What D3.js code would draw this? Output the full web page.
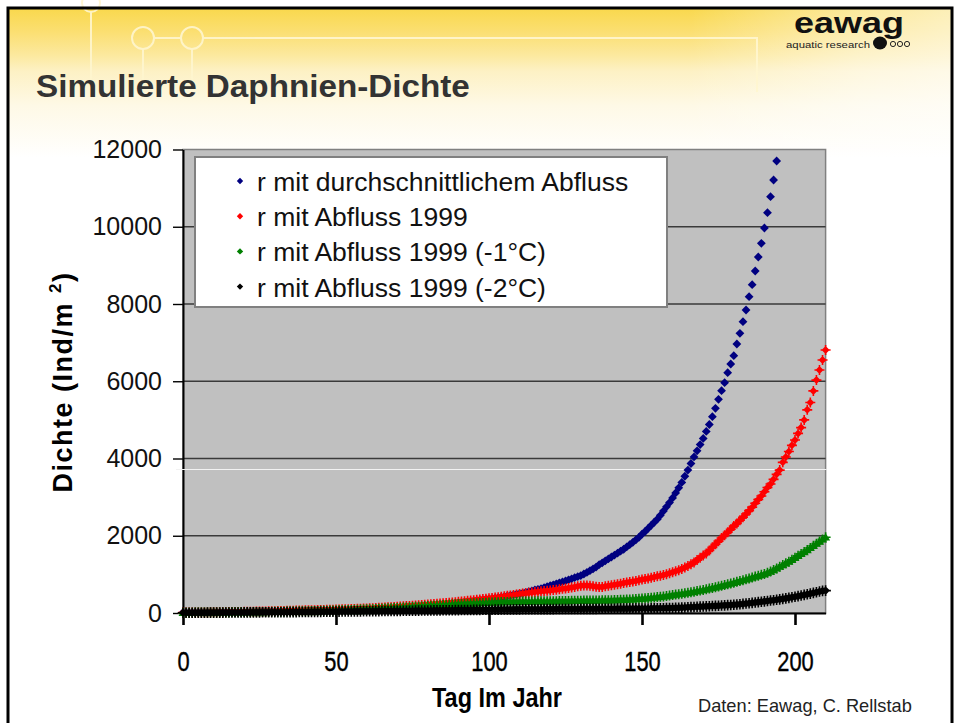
<!DOCTYPE html>
<html>
<head>
<meta charset="utf-8">
<title>Simulierte Daphnien-Dichte</title>
<style>
    html, body { margin: 0; padding: 0; background: #fff; }
    svg { display: block; }
    text { font-family: "Liberation Sans", Arial, sans-serif; }
</style>
<script src="https://d3js.org/d3.v7.min.js"></script>
</head>
<body>
<script>

// values, one value per day (index = Tag im Jahr)
var avgFlow = [
    10,11,11,12,12,13,14,14,15,16,
    16,17,18,18,19,20,21,22,23,24,
    25,26,27,28,29,31,32,33,35,36,
    37,38,40,41,42,43,45,46,47,49,
    50,52,54,55,57,59,61,63,65,67,
    69,71,73,75,77,79,81,83,85,88,
    90,93,96,99,102,105,108,111,114,117,
    120,124,128,132,137,142,147,153,158,164,
    170,177,185,193,201,209,218,229,240,250,
    260,270,280,290,300,310,320,330,340,350,
    360,372,384,397,411,425,440,455,470,485,
    500,517,535,555,575,595,612,630,655,680,
    705,730,755,780,805,830,860,885,915,940,
    970,1010,1050,1095,1140,1190,1250,1300,1350,1400,
    1450,1500,1550,1600,1650,1710,1770,1830,1895,1960,
    2040,2110,2190,2270,2350,2430,2530,2640,2750,2860,
    2980,3110,3240,3380,3540,3700,3870,4040,4200,4360,
    4520,4700,4880,5082,5300,5533,5756,5963,6222,6447,
    6662,6964,7241,7542,7845,8189,8500,8855,9217,9572,
    9968,10364,10778,11210,11702
];

var flow1999 = [
    10,11,11,12,13,13,14,15,16,17,
    18,19,20,21,22,23,24,26,27,28,
    30,31,33,34,36,38,40,42,44,46,
    48,50,52,54,56,58,60,62,64,66,
    68,70,72,74,76,78,80,82,84,86,
    88,91,94,97,100,103,106,109,112,115,
    118,122,126,130,134,138,142,147,152,157,
    162,167,172,178,184,190,196,202,208,214,
    220,226,232,238,245,252,259,266,273,280,
    290,298,306,314,322,331,340,350,360,370,
    380,390,400,410,420,432,444,456,468,480,
    492,502,512,522,532,542,552,560,568,577,
    585,595,605,614,625,637,650,662,675,690,
    705,712,715,705,690,678,672,675,690,705,
    720,730,745,760,775,788,800,815,830,845,
    865,880,895,910,930,950,965,985,1005,1030,
    1055,1080,1105,1140,1180,1220,1260,1310,1370,1430,
    1490,1540,1620,1700,1780,1860,1940,2010,2090,2170,
    2250,2320,2400,2480,2565,2650,2740,2840,2940,3030,
    3140,3250,3340,3460,3590,3700,3900,4040,4180,4340,
    4480,4650,4800,5000,5260,5450,5750,6030,6290,6550,
    6810
];

var flow1999m1 = [
    8,8,9,9,10,10,11,11,12,12,
    13,13,14,15,15,16,17,17,18,19,
    20,21,22,23,24,25,26,27,28,30,
    31,32,34,35,37,38,40,41,43,45,
    46,48,50,52,54,56,58,60,62,64,
    66,68,70,73,76,79,82,85,88,91,
    94,97,100,104,108,112,116,120,124,128,
    132,136,140,145,150,155,160,165,170,175,
    180,185,190,195,200,205,210,215,220,225,
    230,234,238,242,246,250,254,258,262,266,
    270,273,276,279,282,285,287,289,291,293,
    295,296,297,298,299,300,301,302,303,304,
    305,306,307,308,309,310,312,314,316,318,
    320,321,322,323,324,325,326,327,329,331,
    333,335,338,341,344,348,352,357,362,367,
    373,380,387,395,403,412,421,430,440,452,
    464,476,488,500,512,525,538,552,567,582,
    598,614,632,650,668,686,705,725,745,765,
    785,806,828,850,872,895,918,942,965,990,
    1010,1040,1075,1115,1155,1200,1240,1285,1330,1380,
    1430,1480,1530,1580,1630,1685,1740,1795,1850,1905,
    1960
];

var flow1999m2 = [
    5,5,6,6,7,7,8,8,9,9,
    10,10,11,11,12,12,13,13,14,14,
    15,15,16,16,17,17,18,18,19,19,
    20,20,21,21,22,22,23,23,24,24,
    25,26,27,28,29,30,31,32,33,34,
    35,36,37,38,39,40,41,42,43,44,
    45,46,47,48,49,50,51,52,53,54,
    55,56,57,58,59,60,61,62,63,64,
    65,66,67,68,69,70,71,72,73,74,
    75,76,77,78,79,80,81,82,83,84,
    85,86,87,88,89,90,91,92,93,94,
    95,96,97,97,98,98,99,99,100,100,
    101,101,102,102,103,103,104,104,105,105,
    106,106,107,107,108,108,109,109,110,110,
    111,111,112,112,113,113,114,114,115,115,
    116,117,118,119,120,121,122,123,125,127,
    129,132,135,139,143,147,151,156,160,164,
    168,172,176,180,184,188,193,198,203,208,
    213,220,228,236,245,254,263,272,282,292,
    302,312,322,332,343,354,365,378,392,406,
    420,436,452,468,485,502,520,538,556,572,
    580
];

var seriesNames = [
    "r mit durchschnittlichem Abfluss",
    "r mit Abfluss 1999",
    "r mit Abfluss 1999 (-1°C)",
    "r mit Abfluss 1999 (-2°C)"
];
var seriesColors = ["#000080", "#ff0000", "#008000", "#000000"];
var xTicks = [0, 50, 100, 150, 200];
var yTicks = [0, 2000, 4000, 6000, 8000, 10000, 12000];

var allSeries = [avgFlow, flow1999, flow1999m1, flow1999m2];

var W = 956, H = 723;
var plotLeft = 183, plotRight = 825.6, plotTop = 149.5, plotBottom = 613;

var svg = d3.select("body").append("svg")
    .attr("width", W)
    .attr("height", H);

var defs = svg.append("defs");

var bgGrad = defs.append("linearGradient")
    .attr("id", "bg").attr("x1", 0).attr("y1", 0).attr("x2", 0).attr("y2", 1);
[["0", "#f9d84c"], ["0.16", "#fbdf72"], ["0.32", "#fce9a0"], ["0.42", "#fdf1c4"],
 ["0.65", "#fef9e6"], ["1", "#ffffff"]].forEach(function(s) {
    bgGrad.append("stop").attr("offset", s[0]).attr("stop-color", s[1]);
});

var sideGrad = defs.append("linearGradient")
    .attr("id", "side").attr("x1", 0).attr("y1", 0).attr("x2", 1).attr("y2", 0);
[["0", 0], ["0.72", 0], ["0.9", 0.45], ["1", 0.6]].forEach(function(s) {
    sideGrad.append("stop").attr("offset", s[0])
        .attr("stop-color", "#fff").attr("stop-opacity", s[1]);
});

// slide background
svg.append("rect").attr("x", 8).attr("y", 8).attr("width", 945).attr("height", 150)
    .attr("fill", "url(#bg)");
svg.append("rect").attr("x", 8).attr("y", 8).attr("width", 945).attr("height", 150)
    .attr("fill", "url(#side)");

// decorative circuit lines
var deco = svg.append("g")
    .attr("fill", "none")
    .attr("stroke", "#fff6cf")
    .attr("stroke-width", 2)
    .attr("opacity", 0.9);
deco.append("path").attr("d", "M91,12V85");
deco.append("circle").attr("cx", 91).attr("cy", 3).attr("r", 9);
deco.append("circle").attr("cx", 143).attr("cy", 38).attr("r", 11);
deco.append("circle").attr("cx", 192).attr("cy", 38).attr("r", 11);
deco.append("path").attr("d", "M154,38H181");
deco.append("path").attr("d", "M203,38H757V92");
deco.append("path").attr("d", "M143,49V85");
deco.append("path").attr("d", "M192,49V85");

// frame
svg.append("path")
    .attr("d", "M8,723V8H952V723")
    .attr("fill", "none")
    .attr("stroke", "#000")
    .attr("stroke-width", 3);

function fitText(sel, target) {
    var w = sel.node().getComputedTextLength();
    var t = sel.attr("transform") || "";
    sel.attr("transform", t + " scale(" + (target / w) + ",1)");
}

// logo
var logo = svg.append("g");
var lg = logo.append("text")
    .attr("transform", "translate(794,33)")
    .attr("font-size", 29)
    .attr("font-weight", "bold")
    .attr("fill", "#111")
    .text("eawag");
fitText(lg, 110);
var lg2 = logo.append("text")
    .attr("transform", "translate(786,48)")
    .attr("font-size", 9.5)
    .attr("fill", "#222")
    .text("aquatic research");
fitText(lg2, 84);
logo.append("ellipse").attr("cx", 880).attr("cy", 43).attr("rx", 7).attr("ry", 6.5)
    .attr("fill", "#111");
[893, 900, 907].forEach(function(cx) {
    logo.append("circle").attr("cx", cx).attr("cy", 44).attr("r", 2.6)
        .attr("fill", "none").attr("stroke", "#222").attr("stroke-width", 1);
});

// title
var title = svg.append("text")
    .attr("transform", "translate(36,97)")
    .attr("font-size", 31)
    .attr("font-weight", "bold")
    .attr("fill", "#333")
    .text("Simulierte Daphnien-Dichte");
fitText(title, 434);

// scales
var xScale = d3.scaleLinear().domain([0, 210]).range([plotLeft, plotRight]);
var yScale = d3.scaleLinear().domain([0, 12000]).range([plotBottom, plotTop]);

// plot area
svg.append("rect")
    .attr("x", plotLeft).attr("y", plotTop)
    .attr("width", plotRight - plotLeft).attr("height", plotBottom - plotTop)
    .attr("fill", "#c0c0c0")
    .attr("stroke", "#808080")
    .attr("stroke-width", 1.5);

svg.append("g").selectAll("line")
    .data(yTicks.filter(function(d) { return d > 0 && d < 12000; }))
    .enter().append("line")
    .attr("x1", plotLeft).attr("x2", plotRight)
    .attr("y1", function(d) { return yScale(d); })
    .attr("y2", function(d) { return yScale(d); })
    .attr("stroke", "#3a3a3a")
    .attr("stroke-width", 1.5);

// axes
var yAxis = d3.axisLeft(yScale)
    .tickValues(yTicks)
    .tickSize(10)
    .tickSizeOuter(0)
    .tickPadding(11)
    .tickFormat(d3.format("d"));

var gy = svg.append("g")
    .attr("transform", "translate(" + plotLeft + ",0)")
    .call(yAxis);
gy.select(".domain").attr("stroke", "#000").attr("stroke-width", 2);
gy.selectAll(".tick line").attr("stroke", "#000").attr("stroke-width", 1.4);
gy.selectAll(".tick text")
    .attr("font-family", "Liberation Sans, Arial, sans-serif")
    .attr("font-size", 25)
    .attr("fill", "#111");

var xAxis = d3.axisBottom(xScale)
    .tickValues(xTicks)
    .tickSize(12)
    .tickSizeOuter(0)
    .tickPadding(26);

var gx = svg.append("g")
    .attr("transform", "translate(0," + plotBottom + ")")
    .call(xAxis);
gx.select(".domain").attr("stroke", "#000").attr("stroke-width", 2);
gx.selectAll(".tick line").attr("stroke", "#000").attr("stroke-width", 2.6);
gx.selectAll(".tick text")
    .attr("font-family", "Liberation Sans, Arial, sans-serif")
    .attr("font-size", 28)
    .attr("fill", "#000")
    .attr("stroke", "#000")
    .attr("stroke-width", 0.4)
    .attr("transform", "scale(0.78,1)");

// seam visible on the slide
svg.append("line")
    .attr("x1", 176).attr("x2", plotRight + 1)
    .attr("y1", 469.5).attr("y2", 469.5)
    .attr("stroke", "#f2f2f2").attr("stroke-width", 1);

// markers
function markerPath(i, r) {
    var dia = "M0," + (-r) + "L" + r + ",0L0," + r + "L" + (-r) + ",0Z";
    var a = r + 1;
    var plus = "M" + (-a) + ",-0.8h" + (2 * a) + "v1.6h" + (-2 * a) + "Z" +
               "M-0.8," + (-a) + "h1.6v" + (2 * a) + "h-1.6Z";
    if (i === 0) return dia;
    if (i === 1) return dia + plus;
    if (i === 2) return "M0," + (-r - 0.5) + "L" + (r + 0.5) + "," + (r * 0.8) + "L" + (-r - 0.5) + "," + (r * 0.8) + "Z" + plus;
    return dia + plus;
}

var markerR = [4.4, 4.0, 4.0, 4.3];

allSeries.forEach(function(values, si) {
    svg.append("g")
        .attr("fill", seriesColors[si])
        .selectAll("path")
        .data(values)
        .enter().append("path")
        .attr("d", markerPath(si, markerR[si]))
        .attr("transform", function(d, i) {
            return "translate(" + xScale(i) + "," + yScale(d) + ")";
        });
});

// legend
var legend = svg.append("g");
legend.append("rect")
    .attr("x", 195).attr("y", 157)
    .attr("width", 472).attr("height", 150)
    .attr("fill", "#fff")
    .attr("stroke", "#808080")
    .attr("stroke-width", 2);

seriesNames.forEach(function(name, i) {
    var by = 191 + i * 35.2;
    legend.append("path")
        .attr("d", markerPath(0, 3.2))
        .attr("fill", seriesColors[i])
        .attr("transform", "translate(240," + (by - 10) + ")");
    legend.append("text")
        .attr("x", 257).attr("y", by)
        .attr("font-size", 26.5)
        .attr("fill", "#111")
        .text(name);
});

// axis titles
var yTitle = svg.append("text")
    .attr("transform", "translate(72,382) rotate(-90)")
    .attr("text-anchor", "middle")
    .attr("font-size", 27)
    .attr("font-weight", "bold")
    .attr("letter-spacing", 1.5)
    .attr("fill", "#000");
yTitle.append("tspan").text("Dichte (Ind/m ");
yTitle.append("tspan").attr("font-size", 17).attr("dy", -11).text("2");
yTitle.append("tspan").attr("dy", 11).text(")");
fitText(yTitle, 221);

var xTitle = svg.append("text")
    .attr("transform", "translate(497,707)")
    .attr("text-anchor", "middle")
    .attr("font-size", 28)
    .attr("font-weight", "bold")
    .attr("fill", "#000")
    .text("Tag Im Jahr");
fitText(xTitle, 130);

var source = svg.append("text")
    .attr("transform", "translate(698,712)")
    .attr("font-size", 18)
    .attr("fill", "#222")
    .text("Daten: Eawag, C. Rellstab");
fitText(source, 214);

</script>
</body>
</html>
